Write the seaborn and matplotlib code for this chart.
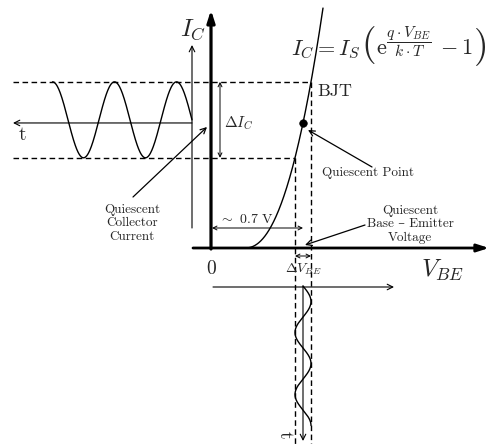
import numpy as np
import pandas as pd
import matplotlib
matplotlib.use("Agg")
import matplotlib.pyplot as plt
import seaborn as sns

# transfer characteristic (units: px right / up from the origin)
v_knee = 34          # where I_C starts to rise
v_top = 112          # end of the drawn curve
curve_gain = 0.0165
curve_power = 2.2
v_q = 92             # quiescent base-emitter voltage (~0.7 V)
delta_v = 16         # swing of V_BE
# small-signal waves
wave_period = 62
wave_cycles = 2.25


def collector_current(v):
    v = np.asarray(v, dtype=float)
    return curve_gain * np.clip(v - v_knee, 0, None) ** curve_power


v_lo, v_hi = v_q - delta_v / 2, v_q + delta_v / 2
i_q = float(collector_current(v_q))
i_lo, i_hi = float(collector_current(v_lo)), float(collector_current(v_hi))

curve = pd.DataFrame({"V": np.linspace(v_knee, v_top, 300)})
curve["I"] = collector_current(curve["V"])

t = np.linspace(0, wave_cycles * wave_period, 400)
ic_wave = pd.DataFrame({"x": -19 - t,
                        "y": (i_hi + i_lo) / 2 + (i_hi - i_lo) / 2 * np.sin(2 * np.pi * t / wave_period)})
vbe_wave = pd.DataFrame({"x": v_q + delta_v / 2 * np.sin(2 * np.pi * t / wave_period),
                         "y": -38 - t})

sns.set_style("white")
plt.rcParams["font.family"] = ["cmr10", "DejaVu Serif"]
plt.rcParams["mathtext.fontset"] = "cm"
plt.rcParams["lines.scale_dashes"] = False

fig = plt.figure(figsize=(4.91, 4.44), dpi=100)
ax = fig.add_axes([0, 0, 1, 1])
ax.set_xlim(-211, 280)
ax.set_ylim(-196, 248)
ax.axis("off")

K = "black"
dash = (0, (4, 2.5))


def arrow(tail, tip, style="->", lw=0.8, scale=10):
    ax.annotate("", xy=tip, xytext=tail,
                arrowprops=dict(arrowstyle=style, lw=lw, color=K, shrinkA=0, shrinkB=0,
                                mutation_scale=scale))


# main axes
arrow((0, -1), (0, 238), "-|>,head_length=0.5,head_width=0.16", lw=2.3, scale=14)
arrow((-18, 0), (278, 0), "-|>,head_length=0.5,head_width=0.16", lw=2.0, scale=14)

# dashed projections
ax.plot([-198, v_hi], [i_hi, i_hi], color=K, lw=1.0, ls=dash)
ax.plot([-198, v_lo], [i_lo, i_lo], color=K, lw=1.0, ls=dash)
ax.plot([v_hi, v_hi], [i_hi, -196], color=K, lw=1.0, ls=dash)
ax.plot([v_lo, v_lo], [i_lo, -196], color=K, lw=1.0, ls=dash)

# I_C(t) plot on the left
arrow((-19, 20), (-19, 203))
arrow((-19, i_q), (-198, i_q))
sns.lineplot(data=ic_wave, x="x", y="y", sort=False, estimator=None, color=K, lw=1.0, ax=ax)

# V_BE(t) plot below
arrow((2, -39), (183, -39))
arrow((v_q, -38), (v_q, -193))
sns.lineplot(data=vbe_wave, x="x", y="y", sort=False, estimator=None, color=K, lw=1.0, ax=ax)

# characteristic curve and operating point
sns.lineplot(data=curve, x="V", y="I", sort=False, estimator=None, color=K, lw=1.0, ax=ax)
sns.scatterplot(x=[v_q], y=[i_q], color=K, s=30, edgecolor=K, zorder=5, ax=ax)

# dimension arrows
arrow((9, i_lo), (9, i_hi), "<->", lw=0.7, scale=7)
arrow((1, 20), (v_q, 20), "<->", lw=0.7, scale=7)
arrow((v_lo, -8), (v_hi, -8), "<->", lw=0.7, scale=7)

# callouts
arrow((161, 81), (97, 118), lw=0.9)
arrow((-78, 51), (-4, 121), lw=0.9)
arrow((154, 23), (94, 3), lw=0.9)

# Shockley equation, built piece by piece so the brackets can be tall
renderer = fig.canvas.get_renderer()
base_y = 193


def after(prev, s, size, gap=0.0):
    bb = prev.get_window_extent(renderer)
    x = ax.transData.inverted().transform((bb.x1, 0))[0] + gap
    return ax.text(x, base_y, s, fontsize=size, ha="left", va="baseline")


eq = ax.text(80, base_y, r"$I_C = I_S\,$", fontsize=16, ha="left", va="baseline")
eq = after(eq, "(", 27, 1)
eq = after(eq, r"$\mathrm{e}^{\dfrac{q\cdot V_{BE}}{k\cdot T}}\,- 1$", 16, 0)
eq = after(eq, ")", 27, 1)

# labels
ax.text(-18, 218, r"$I_C$", fontsize=18, ha="center", va="center")
ax.text(106, 157, "BJT", fontsize=13, ha="left", va="center")
ax.text(13, 125, r"$\Delta I_C$", fontsize=11, ha="left", va="center")
ax.text(8, 29, r"$\sim$ 0.7 V", fontsize=10, ha="left", va="center")
ax.text(v_q, -21, r"$\Delta V_{BE}$", fontsize=10, ha="center", va="center")
ax.text(0, -21, "0", fontsize=14, ha="center", va="center")
ax.text(232, -22, r"$V_{BE}$", fontsize=18, ha="center", va="center")
ax.text(-189, 113, "t", fontsize=14, ha="center", va="center")
ax.text(74, -187, "t", fontsize=14, ha="center", va="center", rotation=-90)
ax.text(111, 75, "Quiescent Point", fontsize=9.5, ha="left", va="center")
ax.text(-79, 25, "Quiescent\nCollector\nCurrent", fontsize=9.5, ha="center", va="center",
        linespacing=1.15)
ax.text(199, 24, "Quiescent\nBase \u2013 Emitter\nVoltage", fontsize=9.5, ha="center", va="center",
        linespacing=1.15)

fig.savefig("out.png", dpi=100)
